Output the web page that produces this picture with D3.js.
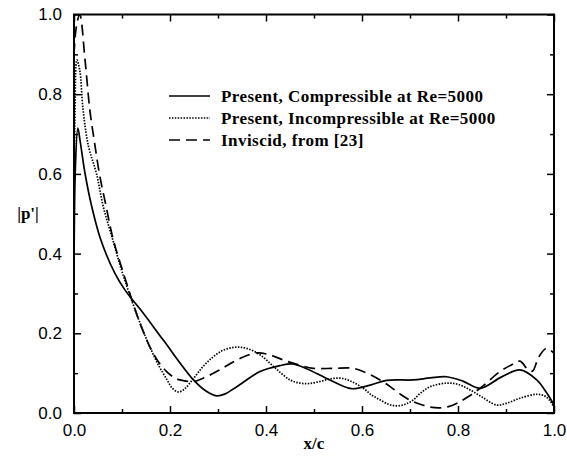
<!DOCTYPE html>
<html>
<head>
<meta charset="utf-8">
<script src="https://cdn.jsdelivr.net/npm/d3@7"></script>
<style>
  body { margin: 0; background: #fff; }
  .tick-label { font-family: "Liberation Sans", Arial, sans-serif; font-size: 17px; }
  .axis-label { font-family: "Liberation Serif", "Times New Roman", serif; font-weight: bold; font-size: 17px; }
  .legend-text { font-family: "Liberation Serif", "Times New Roman", serif; font-weight: bold; font-size: 17px; letter-spacing: 0.45px; }
</style>
</head>
<body>
<div id="chart"></div>
<script>
// Compressible, Re=5000 (solid)
const compX = [0, 0.003, 0.008, 0.0125, 0.023, 0.037, 0.056, 0.085, 0.106, 0.144, 0.186, 0.249, 0.275, 0.297, 0.315, 0.339, 0.3875, 0.429, 0.455, 0.481, 0.533, 0.578, 0.617, 0.651, 0.706, 0.742, 0.776, 0.81, 0.846, 0.89, 0.929, 0.964, 0.985, 1.0];
const compY = [0.35, 0.62, 0.715, 0.685, 0.601, 0.518, 0.434, 0.351, 0.309, 0.251, 0.183, 0.083, 0.055, 0.043, 0.048, 0.066, 0.104, 0.119, 0.123, 0.113, 0.083, 0.061, 0.070, 0.082, 0.083, 0.088, 0.091, 0.080, 0.062, 0.090, 0.108, 0.083, 0.050, 0.020];

// Incompressible, Re=5000 (dotted)
const incX = [0, 0.002, 0.006, 0.012, 0.019, 0.030, 0.047, 0.061, 0.081, 0.101, 0.124, 0.141, 0.158, 0.176, 0.193, 0.205, 0.217, 0.23, 0.249, 0.27, 0.29, 0.31, 0.335, 0.36, 0.3875, 0.42, 0.45, 0.471, 0.49, 0.5125, 0.535, 0.558, 0.58, 0.603, 0.62, 0.6375, 0.655, 0.672, 0.69, 0.707, 0.721, 0.742, 0.776, 0.80, 0.825, 0.85, 0.88, 0.90, 0.929, 0.964, 0.98, 0.99, 1.0];
const incY = [0.5, 0.75, 0.886, 0.86, 0.76, 0.67, 0.60, 0.518, 0.434, 0.351, 0.27, 0.215, 0.166, 0.12, 0.085, 0.062, 0.053, 0.06, 0.087, 0.118, 0.141, 0.157, 0.165, 0.162, 0.146, 0.112, 0.083, 0.075, 0.074, 0.079, 0.086, 0.087, 0.078, 0.062, 0.045, 0.033, 0.022, 0.018, 0.022, 0.033, 0.049, 0.066, 0.075, 0.072, 0.058, 0.040, 0.020, 0.024, 0.037, 0.047, 0.043, 0.033, 0.015];

// Inviscid, from [23] (dashed)
const invX = [0, 0.005, 0.012, 0.023, 0.033, 0.042, 0.053, 0.067, 0.082, 0.103, 0.13, 0.144, 0.158, 0.175, 0.193, 0.21, 0.221, 0.249, 0.27, 0.297, 0.32, 0.346, 0.381, 0.41, 0.436, 0.47, 0.499, 0.54, 0.582, 0.61, 0.6375, 0.66, 0.679, 0.70, 0.721, 0.742, 0.7625, 0.78, 0.797, 0.82, 0.846, 0.8875, 0.91, 0.929, 0.945, 0.955, 0.968, 0.983, 0.99, 1.0];
const invY = [0.9, 0.97, 1.0, 0.886, 0.76, 0.685, 0.60, 0.518, 0.434, 0.351, 0.25, 0.205, 0.166, 0.13, 0.104, 0.088, 0.083, 0.079, 0.088, 0.104, 0.12, 0.137, 0.151, 0.145, 0.133, 0.12, 0.112, 0.112, 0.112, 0.10, 0.083, 0.065, 0.048, 0.032, 0.022, 0.015, 0.013, 0.016, 0.024, 0.04, 0.062, 0.104, 0.12, 0.13, 0.11, 0.105, 0.14, 0.162, 0.16, 0.15];

const seriesNames = [
  "Present, Compressible at Re=5000",
  "Present, Incompressible at Re=5000",
  "Inviscid, from [23]"
];
const seriesDash = ["none", "1.5,1.4", "11,6"];

const xTicks = [0, 0.2, 0.4, 0.6, 0.8, 1.0];
const xMinor = [0.1, 0.3, 0.5, 0.7, 0.9];
const yTicks = [0, 0.2, 0.4, 0.6, 0.8, 1.0];
const yMinor = [0.1, 0.3, 0.5, 0.7, 0.9];

const width = 567, height = 460;
const margin = { top: 14.5, right: 13, bottom: 47, left: 74 };
const innerW = width - margin.left - margin.right;
const innerH = height - margin.top - margin.bottom;

const svg = d3.select("#chart")
  .append("svg")
  .attr("width", width)
  .attr("height", height);

const chart = svg.append("g")
  .attr("transform", `translate(${margin.left},${margin.top})`);

const xScale = d3.scaleLinear().domain([0, 1]).range([0, innerW]);
const yScale = d3.scaleLinear().domain([0, 1]).range([innerH, 0]);

// clip so curves stay inside the frame
chart.append("clipPath").attr("id", "clip")
  .append("rect").attr("width", innerW).attr("height", innerH);

const series = [
  compX.map((x, i) => [x, compY[i]]),
  incX.map((x, i) => [x, incY[i]]),
  invX.map((x, i) => [x, invY[i]])
];

const line = d3.line()
  .x(d => xScale(d[0]))
  .y(d => yScale(d[1]))
  .curve(d3.curveCatmullRom.alpha(0.5));

const widths = [1.7, 1.7, 1.7];

chart.append("g")
  .attr("clip-path", "url(#clip)")
  .selectAll("path")
  .data(series)
  .join("path")
  .attr("d", line)
  .attr("fill", "none")
  .attr("stroke", "#000")
  .attr("stroke-width", (d, i) => widths[i])
  .attr("stroke-dasharray", (d, i) => seriesDash[i]);

// axes with inward ticks, mirrored on top/right
const majorLen = 7, minorLen = 4;
const axisStyle = g => {
  g.select(".domain").remove();
  g.selectAll(".tick line").attr("stroke", "#000").attr("stroke-width", 1.5);
};
const labelStyle = g => g.selectAll("text")
  .attr("class", "tick-label")
  .attr("fill", "#000");

chart.append("g")
  .attr("transform", `translate(0,${innerH})`)
  .call(d3.axisBottom(xScale).tickValues(xTicks).tickSize(-majorLen).tickFormat(d3.format(".1f")).tickPadding(11))
  .attr("font-family", null).attr("font-size", null)
  .call(axisStyle)
  .call(labelStyle);

chart.append("g")
  .attr("transform", `translate(0,${innerH})`)
  .call(d3.axisBottom(xScale).tickValues(xMinor).tickSize(-minorLen).tickFormat(""))
  .call(axisStyle);

chart.append("g")
  .call(d3.axisTop(xScale).tickValues(xTicks).tickSize(-majorLen).tickFormat(""))
  .call(axisStyle);
chart.append("g")
  .call(d3.axisTop(xScale).tickValues(xMinor).tickSize(-minorLen).tickFormat(""))
  .call(axisStyle);

chart.append("g")
  .call(d3.axisLeft(yScale).tickValues(yTicks).tickSize(-majorLen).tickFormat(d3.format(".1f")).tickPadding(12))
  .attr("font-family", null).attr("font-size", null)
  .call(axisStyle)
  .call(labelStyle);

chart.append("g")
  .call(d3.axisLeft(yScale).tickValues(yMinor).tickSize(-minorLen).tickFormat(""))
  .call(axisStyle);

chart.append("g")
  .attr("transform", `translate(${innerW},0)`)
  .call(d3.axisRight(yScale).tickValues(yTicks).tickSize(-majorLen).tickFormat(""))
  .call(axisStyle);
chart.append("g")
  .attr("transform", `translate(${innerW},0)`)
  .call(d3.axisRight(yScale).tickValues(yMinor).tickSize(-minorLen).tickFormat(""))
  .call(axisStyle);

// frame
chart.append("rect")
  .attr("width", innerW)
  .attr("height", innerH)
  .attr("fill", "none")
  .attr("stroke", "#000")
  .attr("stroke-width", 2);

// axis labels
svg.append("text")
  .attr("class", "axis-label")
  .attr("x", margin.left + innerW / 2)
  .attr("y", 449)
  .attr("text-anchor", "middle")
  .text("x/c");

svg.append("text")
  .attr("class", "axis-label")
  .attr("x", 28)
  .attr("y", 219)
  .attr("text-anchor", "middle")
  .text("|p'|");

// legend
const legend = svg.append("g").attr("transform", "translate(169,96)");
const rows = legend.selectAll("g")
  .data(seriesNames)
  .join("g")
  .attr("transform", (d, i) => `translate(0,${i * 22})`);

rows.append("line")
  .attr("x1", 0).attr("x2", 41)
  .attr("stroke", "#000")
  .attr("stroke-width", (d, i) => widths[i])
  .attr("stroke-dasharray", (d, i) => seriesDash[i]);

rows.append("text")
  .attr("class", "legend-text")
  .attr("x", 52)
  .attr("y", 5.5)
  .text(d => d);
</script>
</body>
</html>
